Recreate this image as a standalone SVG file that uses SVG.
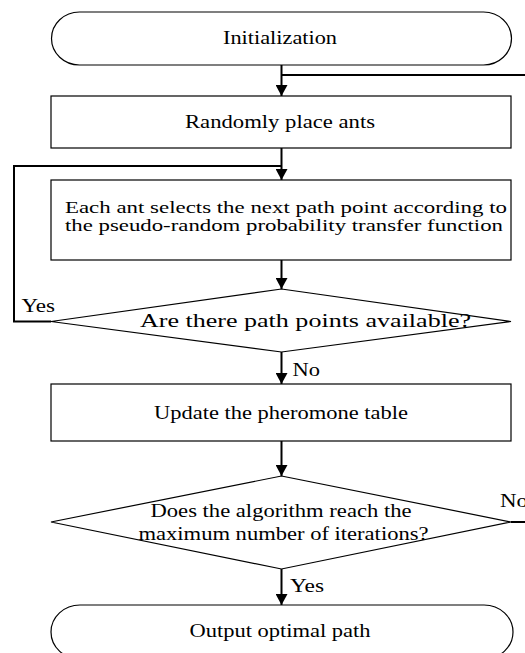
<svg xmlns="http://www.w3.org/2000/svg" width="525" height="653" viewBox="0 0 525 653">
<defs>
<style>
.shape{fill:#fff;stroke:#000;stroke-width:1.2}
.t{font-family:"Liberation Serif","Times New Roman",serif;font-size:18.5px;fill:#000}
.s{font-size:16.5px}
.c{fill:none;stroke:#000;stroke-width:2}
</style>
<marker id="ah" markerUnits="userSpaceOnUse" markerWidth="14" markerHeight="12" refX="12" refY="6.5" orient="auto" viewBox="0 0 14 13">
<path d="M0,0 L12,6.5 L0,13 Z" fill="#000"/>
</marker>
</defs>
<rect width="525" height="653" fill="#fff"/>
<g id="connectors">
<path class="c" d="M281.5,65 V96" marker-end="url(#ah)"/>
<path class="c" d="M525,75 H281.5"/>
<path class="c" d="M281.5,148 V180" marker-end="url(#ah)"/>
<path class="c" d="M51,321.5 H14 V166 H281.5"/>
<path class="c" d="M281.5,260 V289" marker-end="url(#ah)"/>
<path class="c" d="M281.5,352 V384" marker-end="url(#ah)"/>
<path class="c" d="M281.5,441 V476" marker-end="url(#ah)"/>
<path class="c" d="M511,522 H525"/>
<path class="c" d="M281.5,569 V605" marker-end="url(#ah)"/>
<text class="t" x="21.5" y="311.5" textLength="33.5" lengthAdjust="spacingAndGlyphs">Yes</text>
<text class="t" x="292.5" y="375.5" textLength="27.5" lengthAdjust="spacingAndGlyphs">No</text>
<text class="t" x="500" y="506.5" textLength="28" lengthAdjust="spacingAndGlyphs">No</text>
<text class="t" x="290" y="591.5" textLength="34" lengthAdjust="spacingAndGlyphs">Yes</text>
</g>
<g id="init">
<rect class="shape" x="51.5" y="12" width="460" height="53" rx="28" ry="26.5"/>
<text class="t" x="223" y="44" textLength="114" lengthAdjust="spacingAndGlyphs">Initialization</text>
</g>
<g id="place">
<rect class="shape" x="51" y="96" width="460" height="52"/>
<text class="t" x="185" y="128" textLength="190" lengthAdjust="spacingAndGlyphs">Randomly place ants</text>
</g>
<g id="select">
<rect class="shape" x="51" y="180" width="460" height="80"/>
<text class="t s" x="65" y="212.5" textLength="442" lengthAdjust="spacingAndGlyphs">Each ant selects the next path point according to</text>
<text class="t s" x="65" y="230.5" textLength="438" lengthAdjust="spacingAndGlyphs">the pseudo-random probability transfer function</text>
</g>
<g id="available">
<polygon class="shape" points="281.5,289 511,321.5 281.5,352 51,321.5"/>
<text class="t" x="140" y="326.5" textLength="331" lengthAdjust="spacingAndGlyphs">Are there path points available?</text>
</g>
<g id="update">
<rect class="shape" x="51" y="384" width="460" height="57"/>
<text class="t" x="154" y="419" textLength="254" lengthAdjust="spacingAndGlyphs">Update the pheromone table</text>
</g>
<g id="maxiter">
<polygon class="shape" points="281.5,476 511,522 281.5,569 51,522"/>
<text class="t" x="150.5" y="516.5" textLength="261" lengthAdjust="spacingAndGlyphs">Does the algorithm reach the</text>
<text class="t" x="138.5" y="540" textLength="290" lengthAdjust="spacingAndGlyphs">maximum number of iterations?</text>
</g>
<g id="output">
<rect class="shape" x="51" y="605" width="462" height="54" rx="29" ry="27"/>
<text class="t" x="189.5" y="637" textLength="181" lengthAdjust="spacingAndGlyphs">Output optimal path</text>
</g>
</svg>
